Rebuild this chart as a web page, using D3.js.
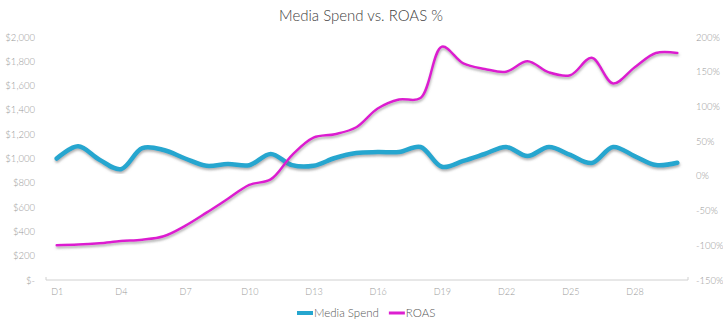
<!DOCTYPE html>
<html>
<head>
<meta charset="utf-8">
<script src="https://cdn.jsdelivr.net/npm/d3@7"></script>
<style>
  body { margin: 0; background: #fff; }
  text { font-family: Lato, "Open Sans", sans-serif; }
</style>
</head>
<body>
<div id="chart"></div>
<script>
// Data
const days = d3.range(1, 31).map(d => 'D' + d)
const mediaSpend = [1000, 1100, 990, 912, 1085, 1070, 1000, 940, 955, 945,
  1037, 945, 940, 1004, 1045, 1053, 1053, 1095, 932, 980,
  1037, 1095, 1020, 1095, 1029, 963, 1095, 1020, 946, 965]
const roas = [-100, -99, -97, -94, -92, -87, -72, -53, -33, -13,
  -5, 30, 55, 60, 70, 97, 110, 112, 186, 162,
  154, 150, 165, 149, 145, 170, 133, 156, 177, 177]
const spendTicks = [0, 200, 400, 600, 800, 1000, 1200, 1400, 1600, 1800, 2000]
const roasTicks = [-150, -100, -50, 0, 50, 100, 150, 200]
const dayLabels = ['D1', 'D4', 'D7', 'D10', 'D13', 'D16', 'D19', 'D22', 'D25', 'D28']

// Dimensions
const dimensions = {
  width: 723,
  height: 327,
  left: 46,
  right: 688,
  top: 37,
  bottom: 280
}

const svg = d3.select('#chart')
  .append('svg')
  .attr('width', dimensions.width)
  .attr('height', dimensions.height)

const defs = svg.append('defs')
const shadow = defs.append('filter')
  .attr('id', 'shadow')
  .attr('x', '-5%').attr('y', '-20%')
  .attr('width', '110%').attr('height', '140%')
shadow.append('feDropShadow')
  .attr('dx', 0.5)
  .attr('dy', 2)
  .attr('stdDeviation', 1)
  .attr('flood-color', '#666')
  .attr('flood-opacity', 0.5)

// Scales
const xScale = d3.scalePoint()
  .domain(days)
  .range([dimensions.left, dimensions.right])
  .padding(0.5)

const ySpend = d3.scaleLinear()
  .domain([0, 2000])
  .range([dimensions.bottom, dimensions.top])

const yRoas = d3.scaleLinear()
  .domain([-150, 200])
  .range([dimensions.bottom, dimensions.top])

// Title
svg.append('text')
  .attr('x', 361)
  .attr('y', 21)
  .attr('text-anchor', 'middle')
  .attr('font-size', 15)
  .attr('font-weight', 300)
  .attr('fill', '#404040')
  .text('Media Spend vs. ROAS %')

const styleTicks = g => g.selectAll('text')
  .attr('font-size', 9.5)
  .attr('font-weight', 300)
  .attr('fill', '#999')
  .attr('font-family', 'Lato, sans-serif')

// Left axis
const fmtSpend = v => v === 0 ? '$-' : d3.format('$,')(v)
const leftAxis = svg.append('g')
  .attr('transform', `translate(${dimensions.left - 11}, 0)`)
  .call(d3.axisLeft(ySpend).tickValues(spendTicks).tickFormat(fmtSpend).tickSize(0).tickPadding(0))
leftAxis.select('.domain').remove()
styleTicks(leftAxis)

// Right axis
const rightAxis = svg.append('g')
  .attr('transform', `translate(${dimensions.right + 8}, 0)`)
  .call(d3.axisRight(yRoas).tickValues(roasTicks).tickFormat(d => d + '%').tickSize(0).tickPadding(0))
rightAxis.select('.domain').remove()
styleTicks(rightAxis)

// Bottom axis
const bottomAxis = svg.append('g')
  .attr('transform', `translate(0, ${dimensions.bottom})`)
  .call(d3.axisBottom(xScale).tickValues(dayLabels).tickSize(0).tickPadding(9))
bottomAxis.select('.domain')
  .attr('d', `M${dimensions.left},-3V0H${dimensions.right}V-3`)
  .attr('stroke', '#d0d0d0')
styleTicks(bottomAxis)
bottomAxis.selectAll('text').attr('font-size', 9)

// Lines
const spendLine = d3.line()
  .x((d, i) => xScale(days[i]))
  .y(d => ySpend(d))
  .curve(d3.curveCatmullRom.alpha(0.5))

const roasLine = d3.line()
  .x((d, i) => xScale(days[i]))
  .y(d => yRoas(d))
  .curve(d3.curveCatmullRom.alpha(0.5))

svg.append('path')
  .datum(mediaSpend)
  .attr('d', spendLine)
  .attr('fill', 'none')
  .attr('stroke', '#25a6cf')
  .attr('stroke-width', 4.5)
  .attr('stroke-linecap', 'round')
  .attr('filter', 'url(#shadow)')

svg.append('path')
  .datum(roas)
  .attr('d', roasLine)
  .attr('fill', 'none')
  .attr('stroke', '#dc1fd0')
  .attr('stroke-width', 2.5)
  .attr('stroke-linecap', 'round')
  .attr('filter', 'url(#shadow)')

// Legend
const legend = svg.append('g')
  .attr('transform', 'translate(297, 313)')
const items = [
  { name: 'Media Spend', color: '#25a6cf', width: 4 },
  { name: 'ROAS', color: '#dc1fd0', width: 3 }
]
let offset = 0
items.forEach(item => {
  const g = legend.append('g').attr('transform', `translate(${offset}, 0)`)
  g.append('line')
    .attr('x1', 0).attr('x2', 16)
    .attr('y1', 0).attr('y2', 0)
    .attr('stroke', item.color)
    .attr('stroke-width', item.width)
  const t = g.append('text')
    .attr('x', 17)
    .attr('y', 4)
    .attr('font-size', 11.5)
    .attr('font-weight', 300)
    .attr('fill', '#555')
    .text(item.name)
  offset += 17 + t.node().getComputedTextLength() + 10
})
</script>
</body>
</html>
